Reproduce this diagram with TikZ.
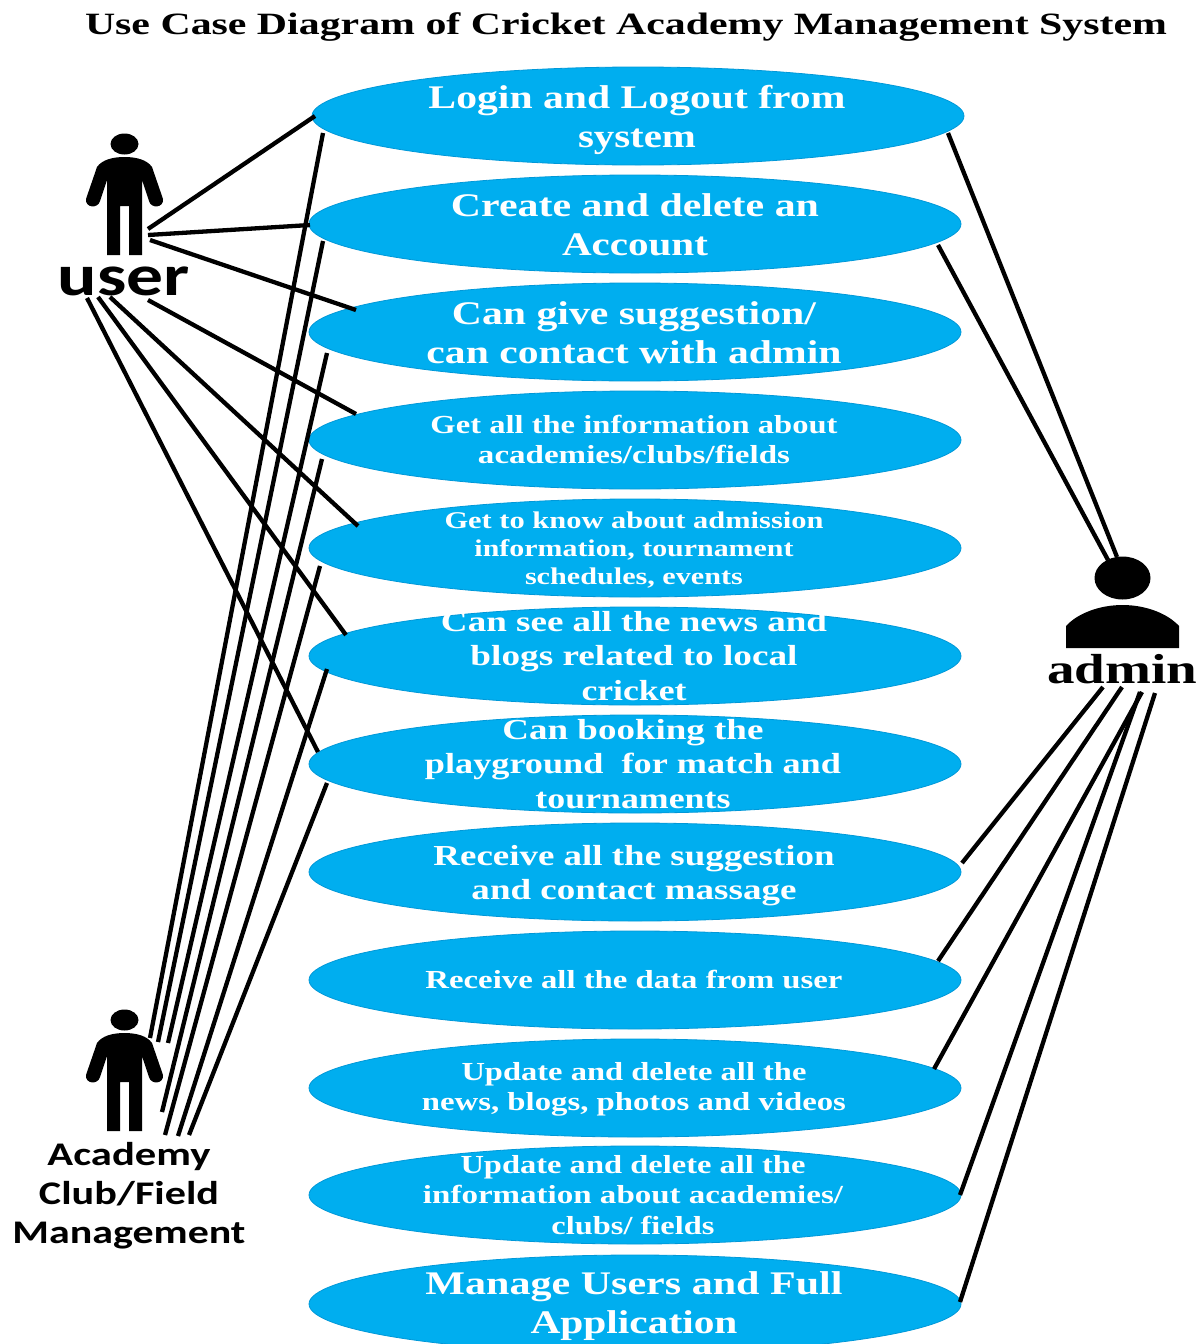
\documentclass[tikz,border=0pt]{standalone}
\usepackage{fontspec}
\usepackage{graphicx}
\usetikzlibrary{shapes.geometric}
\setmainfont{Liberation Serif}
\newfontfamily\actorsans{Carlito}
\newcommand{\wl}[2]{\resizebox{#1pt}{\height}{#2}}
\definecolor{ucblue}{HTML}{00AEEF}
\definecolor{ucedge}{HTML}{0098D8}
\tikzset{
  uc/.style={ellipse,fill=ucblue,draw=ucedge,line width=0.8pt,minimum width=652pt,minimum height=98pt,inner sep=0pt},
  lbl/.style 2 args={anchor=base,align=center,inner sep=0pt,text=white,font=\fontsize{#1}{#2}\selectfont\bfseries},
  link/.style={black,line width=4.3pt},
  person/.pic={
    \fill[black] (124.5,144) ellipse [x radius=14,y radius=10.5];
    \fill[black] (124.5,157) .. controls (112,157) and (102,160) .. (97,167)
      -- (86,199) .. controls (85,208) and (98,209) .. (100,201) -- (107,180) -- (107,255) -- (120,255)
      -- (120,206) -- (129,206) -- (129,255) -- (142,255) -- (142,180) -- (149,201)
      .. controls (151,209) and (164,208) .. (163,199) -- (152,167) .. controls (147,160) and (137,157) .. (124.5,157) -- cycle;
  }
}
\begin{document}
\begin{tikzpicture}[x=1pt,y=-1pt]
\clip (0,0) rectangle (1202,1344);
\useasboundingbox (0,0) rectangle (1202,1344);
% use cases
\node[uc] (e1) at (638,116) {};
\node[uc] (e2) at (635,224) {};
\node[uc] (e3) at (635,332) {};
\node[uc] (e4) at (635,440) {};
\node[uc] (e5) at (635,548) {};
\node[uc] (e6) at (635,656) {};
\node[uc] (e7) at (635,764) {};
\node[uc] (e8) at (635,872) {};
\node[uc] (e9) at (635,980) {};
\node[uc] (e10) at (635,1088) {};
\node[uc] (e11) at (635,1195) {};
\node[uc] (e12) at (635,1304) {};
% use case labels
\node[lbl={33}{39}] (t1) at (637,147) {\wl{417}{Login and Logout from}\\\wl{118}{system}};
\node[lbl={33}{39}] (t2) at (635,255) {\wl{368}{Create and delete an}\\\wl{146}{Account}};
\node[lbl={33}{39}] (t3) at (634,363) {\wl{364}{Can give suggestion/}\\\wl{415}{can contact with admin}};
\node[lbl={26}{30}] (t4) at (634,463) {\wl{407}{Get all the information about}\\\wl{312}{academies/clubs/fields}};
\node[lbl={24}{28}] (t5) at (634,584) {\wl{379}{Get to know about admission}\\\wl{319}{information, tournament}\\\wl{218}{schedules, events}};
\node[lbl={29}{34.5}] (t6) at (634,700) {\wl{386}{Can see all the news and}\\\wl{327}{blogs related to local}\\\wl{105}{cricket}};
\node[lbl={29}{34.5}] (t7) at (633,808) {\wl{261}{Can booking the}\\\wl{416}{playground\ \ for match and}\\\wl{195}{tournaments}};
\node[lbl={29}{34}] (t8) at (634,899) {\wl{401}{Receive all the suggestion}\\\wl{325}{and contact massage}};
\node[lbl={26}{30}] (t9) at (634,988) {\wl{417}{Receive all the data from user}};
\node[lbl={26}{30}] (t10) at (634,1110) {\wl{345}{Update and delete all the}\\\wl{424}{news, blogs, photos and videos}};
\node[lbl={26}{30.5}] (t11) at (633,1234) {\wl{345}{Update and delete all the}\\\wl{420}{information about academies/}\\\wl{163}{clubs/ fields}};
\node[lbl={33}{39}] (t12) at (634,1333) {\wl{417}{Manage Users and Full}\\\wl{207}{Application}};
% title
\node[anchor=base,inner sep=0pt,font=\fontsize{31}{36}\selectfont\bfseries] (title) at (626,34) {\wl{1082}{Use Case Diagram of Cricket Academy Management System}};
% actors
\pic {person};
\pic[yshift=-876pt] {person};
\fill[black] (1122.5,578) ellipse [x radius=28,y radius=21.5];
\fill[black] (1066,648) -- (1066,626) .. controls (1078,613) and (1100,605) .. (1122.5,605) .. controls (1145,605) and (1167,613) .. (1179,626) -- (1179,648) -- cycle;
\node[anchor=base,inner sep=0pt,font=\actorsans\fontsize{58}{60}\selectfont\bfseries] (user) at (124,295) {\wl{132}{user}};
\node[anchor=base,align=center,inner sep=0pt,font=\actorsans\fontsize{33}{39}\selectfont\bfseries] (academy) at (129,1243) {\wl{163}{Academy}\\\wl{180}{Club/Field}\\\wl{233}{Management}};
\node[anchor=base,inner sep=0pt,font=\fontsize{42}{46}\selectfont\bfseries] (admin) at (1122,683) {\wl{150}{admin}};
% anchors of the actors
\coordinate (uA) at (148,229);
\coordinate (uB) at (148,235);
\coordinate (uC) at (150,240);
\coordinate (uD) at (148,300);
\coordinate (uE) at (110,297);
\coordinate (uF) at (98,297);
\coordinate (uG) at (87,298);
\coordinate (mA) at (150,1038);
\coordinate (mB) at (158,1042);
\coordinate (mC) at (168,1043);
\coordinate (mD) at (162,1112);
\coordinate (mE) at (165,1135);
\coordinate (mF) at (178,1136);
\coordinate (mG) at (189,1135);
\coordinate (aA) at (1117,557);
\coordinate (aB) at (1108,560);
\coordinate (aC) at (1103,687);
\coordinate (aD) at (1122,687);
\coordinate (aE) at (1142,692);
\coordinate (aF) at (1140,692);
\coordinate (aG) at (1155,693);
% user links
\draw[link] (uA) -- ([shift={(-323,0)}]e1.center);
\draw[link] (uB) -- ([shift={(-325,1)}]e2.center);
\draw[link] (uC) -- ([shift={(-279,-22)}]e3.center);
\draw[link] (uD) -- ([shift={(-279,-26)}]e4.center);
\draw[link] (uE) -- ([shift={(-277,-22)}]e5.center);
\draw[link] (uF) -- ([shift={(-289,-21)}]e6.center);
\draw[link] (uG) -- ([shift={(-317,-12)}]e7.center);
% management links
\draw[link] (mA) -- ([shift={(-315,17)}]e1.center);
\draw[link] (mB) -- ([shift={(-312,17)}]e2.center);
\draw[link] (mC) -- ([shift={(-308,21)}]e3.center);
\draw[link] (mD) -- ([shift={(-313,19)}]e4.center);
\draw[link] (mE) -- ([shift={(-315,18)}]e5.center);
\draw[link] (mF) -- ([shift={(-308,13)}]e6.center);
\draw[link] (mG) -- ([shift={(-308,19)}]e7.center);
% admin links
\draw[link] (aA) -- ([shift={(310,17)}]e1.center);
\draw[link] (aB) -- ([shift={(303,21)}]e2.center);
\draw[link] (aC) -- ([shift={(327,-9)}]e8.center);
\draw[link] (aD) -- ([shift={(303,-19)}]e9.center);
\draw[link] (aE) -- ([shift={(299,-19)}]e10.center);
\draw[link] (aF) -- ([shift={(325,0)}]e11.center);
\draw[link] (aG) -- ([shift={(325,-2)}]e12.center);
\end{tikzpicture}
\end{document}
